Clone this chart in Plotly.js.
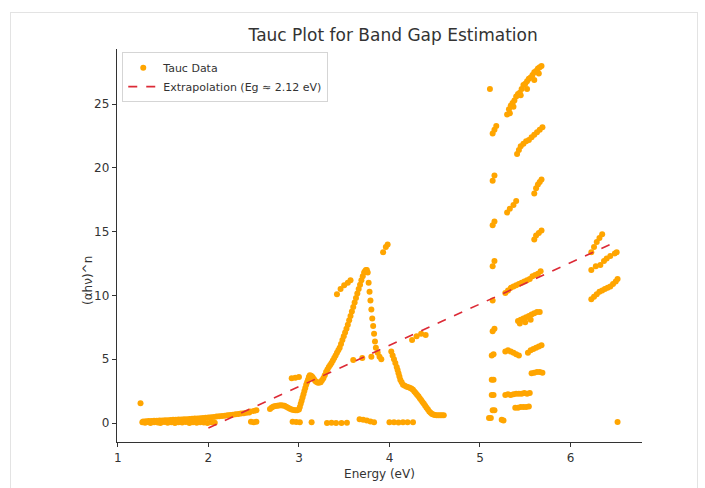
<!DOCTYPE html>
<html>
<head>
<meta charset="utf-8">
<script src="https://cdn.plot.ly/plotly-3.0.1.min.js"></script>
<style>
html,body{margin:0;padding:0;background:#fff;}
#frame{position:absolute;left:10px;top:12px;width:686px;height:480px;border:1px solid #e3e3e3;pointer-events:none;}
#chart{position:absolute;left:0;top:0;width:705px;height:488px;}
</style>
</head>
<body>
<div id="chart"></div>
<div id="frame"></div>
<script>
// ---- Data ----
const baseLowX = [1.27,1.30,1.33,1.36,1.40,1.44,1.47,1.51,1.55,1.59,1.63,1.67,1.71,1.75,1.79,1.83,1.87,1.91,1.95,1.99,2.03,2.07];
const baseLowY = [0.05,0.02,0.08,0.00,0.06,0.03,0.00,0.07,0.02,0.05,0.00,0.06,0.03,0.08,0.00,0.05,0.02,0.06,0.04,0.00,0.05,0.02];

const baseUpX = [1.28,1.31,1.34,1.37,1.40,1.43,1.46,1.49,1.52,1.55,1.58,1.61,1.64,1.67,1.70,1.73,1.76,1.79,1.82,1.85,
                 1.88,1.91,1.94,1.97,2.00,2.03,2.06,2.09,2.12,2.15,2.18,2.21,2.24,2.27,2.30,2.33,2.36,2.39,2.42,2.45];
const baseUpY = [0.12,0.14,0.15,0.16,0.17,0.18,0.19,0.20,0.21,0.22,0.23,0.25,0.26,0.27,0.28,0.29,0.30,0.32,0.33,0.35,
                 0.36,0.38,0.40,0.42,0.44,0.46,0.48,0.50,0.52,0.55,0.57,0.60,0.62,0.65,0.68,0.71,0.74,0.77,0.80,0.83];

const riseX = [2.68,2.70,2.72,2.74,2.76,2.78,2.80,2.82,2.84,2.86,2.88,2.90,2.92,2.94,2.96,2.98,3.00,
               3.01,3.02,3.03,3.04,3.05,3.06,3.07,3.08,3.09,3.10,3.11,3.12,
               3.135,3.15,3.165,3.18,3.195,3.21,3.225,3.24,3.255,3.27,3.285,3.30,3.315,3.33,3.345,3.36,3.375,3.39,3.405,3.42,3.435,
               3.45,3.465,3.48,3.495,3.51,3.525,3.54,3.555,3.57,3.585,3.60,3.615,3.63,3.645,3.66,3.675,3.69,3.705,
               3.72,3.73,3.74];
const riseY = [1.10,1.22,1.30,1.33,1.35,1.38,1.40,1.38,1.35,1.28,1.20,1.12,1.05,1.02,1.00,1.00,1.05,
               1.25,1.50,1.75,2.00,2.25,2.50,2.75,3.00,3.20,3.40,3.60,3.75,
               3.70,3.60,3.45,3.30,3.22,3.15,3.17,3.20,3.35,3.50,3.75,4.00,4.20,4.40,4.55,4.70,4.90,5.10,5.30,5.50,5.70,
               5.90,6.20,6.50,6.80,7.10,7.40,7.70,8.05,8.40,8.75,9.10,9.45,9.80,10.15,10.50,10.85,11.20,11.50,
               11.80,11.90,12.00];

const dropX = [3.75,3.76,3.77,3.78,3.79,3.80,3.81,3.82,3.83,3.84,3.85,3.87,3.89,3.91];
const dropY = [12.0,11.8,11.0,10.3,9.6,8.9,8.2,7.6,7.0,6.4,5.9,5.5,5.2,5.0];

const tailX = [4.02,4.035,4.05,4.065,4.08,4.09,4.10,4.11,4.12,4.135,4.15,4.17,4.19,4.21,4.23,
               4.245,4.26,4.275,4.29,4.305,4.32,4.335,4.35,4.365,4.38,4.395,4.41,4.425,4.44,4.455,4.47,4.485,4.50,
               4.52,4.54,4.56,4.58,4.60];
const tailY = [5.6,5.3,5.0,4.7,4.4,4.15,3.9,3.65,3.4,3.2,3.0,2.92,2.85,2.8,2.75,
               2.68,2.6,2.48,2.35,2.22,2.1,1.95,1.8,1.65,1.5,1.35,1.2,1.05,0.9,0.8,0.7,0.66,0.62,
               0.61,0.6,0.6,0.6,0.6];

const midZeroX = [2.47,2.50,2.53,2.93,2.97,3.01,3.14,3.31,3.36,3.41,3.47,3.53,3.67,3.71,3.75,3.79,3.83,4.00,4.05,4.10,4.15,4.20,4.26];
const midZeroY = [0.10,0.05,0.10,0.10,0.08,0.05,0.05,0.00,0.02,0.00,0.00,0.02,0.30,0.25,0.20,0.12,0.05,0.05,0.05,0.03,0.05,0.05,0.05];

const midClusterX = [1.25,2.46,2.50,2.53,2.92,2.96,3.00,3.42,3.46,3.50,3.54,3.57,3.93,3.96,3.98,3.60,3.70,3.80,4.25,4.30,4.35,4.40];
const midClusterY = [1.54,0.90,0.95,1.00,3.50,3.55,3.60,10.1,10.5,10.8,11.0,11.2,13.4,13.8,14.0,4.95,5.10,5.20,6.5,6.8,7.0,6.9];

const colX = [5.11,5.14,5.16,5.18,5.14,5.16,5.14,5.16,5.14,5.16,5.14,5.14,5.16,5.13,5.15,5.13,5.15,5.13,5.15,5.14,5.16,5.10,5.12,5.24,5.26];
const colY = [26.2,22.7,23.0,23.3,19.0,19.4,15.5,15.8,12.3,12.7,9.6,7.2,7.4,5.3,5.4,3.4,3.4,2.2,2.2,1.0,1.0,0.4,0.4,0.25,0.2];

const topDiagX = [5.30,5.32,5.34,5.36,5.38,5.40,5.42,5.44,5.46,5.48,5.50,5.52,5.54,5.56,5.58,5.60,5.62,5.64,5.66,5.68,5.33,5.37,5.45,5.52,5.60,5.65];
const topDiagY = [24.2,24.6,24.9,25.1,25.3,25.6,25.8,25.9,26.2,26.5,26.6,26.8,27.0,27.1,27.3,27.5,27.6,27.8,27.9,28.0,24.3,24.8,25.7,26.2,26.9,27.4];

const diag2X = [5.41,5.43,5.45,5.48,5.51,5.54,5.57,5.60,5.63,5.66,5.69,5.60,5.62,5.64,5.66,5.68,5.30,5.33,5.37,5.40,5.60,5.62,5.65,5.68];
const diag2Y = [21.1,21.4,21.7,21.9,22.1,22.2,22.4,22.6,22.8,23.0,23.2,18.0,18.4,18.7,18.9,19.1,16.5,16.8,17.1,17.4,14.4,14.7,14.9,15.1];

const diag3X = [5.28,5.31,5.34,5.37,5.40,5.43,5.46,5.49,5.52,5.55,5.58,5.61,5.64,5.67];
const diag3Y = [10.2,10.4,10.6,10.7,10.8,10.9,11.0,11.1,11.2,11.3,11.5,11.6,11.7,11.9];

const lowRightX = [5.42,5.45,5.48,5.51,5.54,5.57,5.60,5.63,5.66,5.44,5.50,5.56,
                   5.28,5.31,5.34,5.37,5.40,5.43,5.53,5.56,5.59,5.62,5.65,5.68,
                   5.57,5.60,5.63,5.66,5.69,
                   5.28,5.31,5.34,5.37,5.40,5.43,5.46,5.49,5.52,5.55,
                   5.39,5.42,5.45,5.48,5.51,5.54];
const lowRightY = [8.0,8.1,8.2,8.3,8.4,8.5,8.6,8.7,8.7,7.8,7.9,8.1,
                   5.6,5.7,5.6,5.5,5.4,5.3,5.5,5.7,5.8,5.9,6.0,6.1,
                   3.9,3.95,4.0,4.0,3.95,
                   2.2,2.25,2.2,2.25,2.3,2.3,2.3,2.35,2.3,2.35,
                   1.2,1.2,1.25,1.25,1.25,1.3];

const farX = [6.23,6.26,6.29,6.32,6.35,6.23,6.28,6.33,6.37,6.40,6.44,6.49,6.51,6.23,6.26,6.29,6.32,6.35,6.38,6.41,6.44,6.47,6.50,6.52,6.52];
const farY = [13.4,13.8,14.2,14.5,14.8,12.0,12.3,12.4,12.7,12.9,13.1,13.3,13.4,9.7,9.9,10.1,10.3,10.4,10.5,10.6,10.7,10.9,11.1,11.3,0.08];

const fitX = [2.00, 6.52];
const fitY = [-0.39, 14.26];

const xTicks = [1,2,3,4,5,6];
const yTicks = [0,5,10,15,20,25];

// ---- Build ----
const taucX = [].concat(baseLowX, baseUpX, riseX, dropX, tailX, midZeroX, midClusterX, colX, topDiagX, diag2X, diag3X, lowRightX, farX);
const taucY = [].concat(baseLowY, baseUpY, riseY, dropY, tailY, midZeroY, midClusterY, colY, topDiagY, diag2Y, diag3Y, lowRightY, farY);

const font = "DejaVu Sans, sans-serif";
const traces = [
  {x: taucX, y: taucY, type: 'scatter', mode: 'markers', name: 'Tauc Data',
   marker: {color: '#FFA500', size: 6, line: {width: 0}}},
  {x: fitX, y: fitY, type: 'scatter', mode: 'lines', name: 'Extrapolation (Eg ≈ 2.12 eV)',
   line: {color: '#dc2a36', width: 1.6, dash: 'dash'}}
];

const layout = {
  width: 705, height: 488,
  margin: {l: 117, r: 63, t: 49, b: 46},
  paper_bgcolor: '#fff', plot_bgcolor: '#fff',
  font: {family: font, color: '#333', size: 12},
  title: {text: 'Tauc Plot for Band Gap Estimation', font: {family: font, size: 17, color: '#333'},
          xref: 'paper', x: 0.526, xanchor: 'center', y: 0.928, yanchor: 'middle'},
  xaxis: {range: [0.99, 6.79], tickvals: xTicks, ticktext: xTicks.map(String),
          showgrid: false, zeroline: false, showline: true, linecolor: '#333', linewidth: 1.2,
          ticks: 'outside', ticklen: 4, tickcolor: '#333', tickfont: {size: 12},
          title: {text: 'Energy (eV)', font: {size: 12}, standoff: 6}},
  yaxis: {range: [-1.49, 29.33], tickvals: yTicks, ticktext: yTicks.map(String),
          showgrid: false, zeroline: false, showline: true, linecolor: '#333', linewidth: 1.2,
          ticks: 'outside', ticklen: 4, tickcolor: '#333', tickfont: {size: 12}},
  annotations: [{text: '(αhν)^n', xref: 'paper', yref: 'paper', x: -0.055, y: 0.41,
                 xanchor: 'center', yanchor: 'middle', textangle: -90, showarrow: false,
                 font: {size: 12, color: '#333'}}],
  showlegend: true,
  legend: {x: 0.01, y: 0.992, xanchor: 'left', yanchor: 'top',
           bgcolor: 'rgba(255,255,255,0.85)', bordercolor: '#d5d5d5', borderwidth: 1,
           font: {size: 11, color: '#333'}, tracegroupgap: 0, itemwidth: 30}
};

Plotly.newPlot('chart', traces, layout, {displayModeBar: false, staticPlot: true});
</script>
</body>
</html>
